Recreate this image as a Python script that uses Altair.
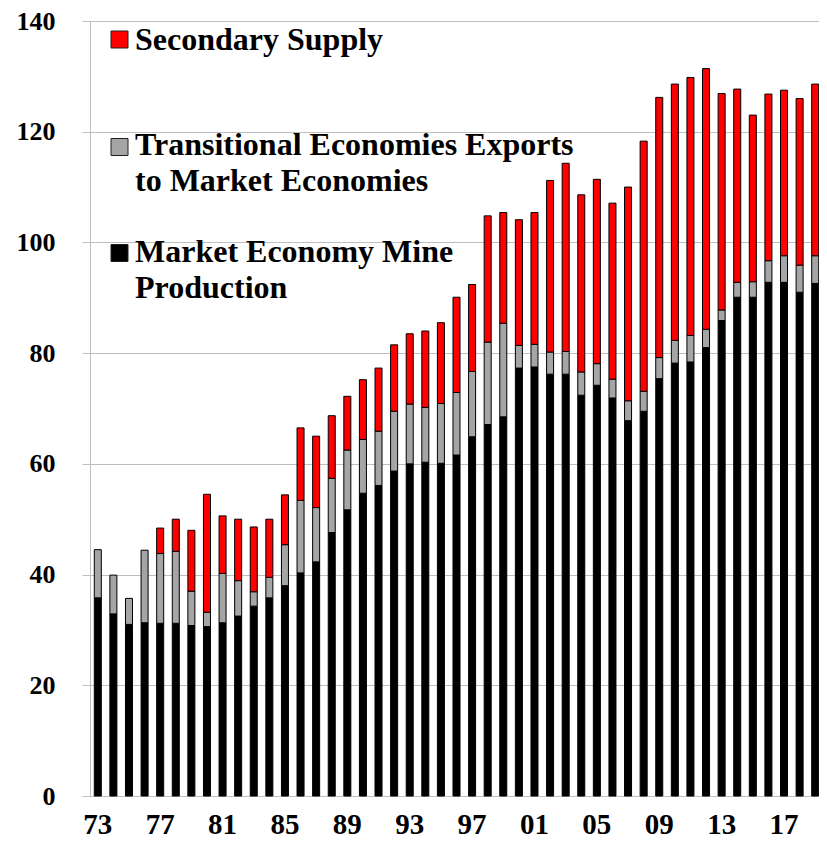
import altair as alt
import pandas as pd

# ---------------- data ----------------
years = list(range(1973, 2020))

market = [35.8, 32.9, 31.0, 31.3, 31.2, 31.2, 30.8, 30.6, 31.3, 32.5,
          34.3, 35.8, 38.0, 40.3, 42.3, 47.6, 51.7, 54.7, 56.1, 58.7,
          60.0, 60.3, 60.1, 61.6, 64.9, 67.1, 68.5, 77.3, 77.5, 76.2,
          76.2, 72.4, 74.2, 71.9, 67.8, 69.5, 75.4, 78.2, 78.4, 81.0,
          85.9, 90.1, 90.1, 92.8, 92.8, 91.0, 92.6]

transitional = [8.7, 7.0, 4.7, 13.1, 12.6, 13.0, 6.2, 2.6, 8.9, 6.4,
                2.6, 3.7, 7.4, 13.1, 9.8, 9.8, 10.8, 9.7, 9.8, 10.8,
                10.8, 9.9, 10.8, 11.3, 11.8, 14.9, 16.9, 4.1, 4.1, 4.0,
                4.1, 4.2, 3.9, 3.4, 3.6, 3.6, 3.8, 4.1, 4.8, 3.3,
                1.9, 2.7, 2.8, 3.9, 4.8, 4.9, 5.0]

secondary = [0.0, 0.0, 0.0, 0.0, 4.6, 5.8, 11.0, 21.3, 10.4, 11.1,
             11.7, 10.5, 9.0, 13.1, 12.9, 11.3, 9.7, 10.8, 11.4, 12.0,
             12.7, 13.8, 14.6, 17.2, 15.7, 22.8, 20.0, 22.7, 23.8, 31.0,
             34.0, 32.0, 33.3, 31.8, 38.6, 45.2, 47.0, 46.3, 46.6, 47.1,
             39.1, 34.9, 30.1, 30.1, 29.9, 30.1, 31.0]

series_names = ["Market Economy Mine Production",
                "Transitional Economies Exports to Market Economies",
                "Secondary Supply"]
series_colors = ["#000000", "#a5a5a5", "#ff0000"]

legend_lines = {
    "Secondary Supply": ["Secondary Supply"],
    "Transitional Economies Exports to Market Economies":
        ["Transitional Economies Exports", "to Market Economies"],
    "Market Economy Mine Production": ["Market Economy Mine", "Production"],
}

y_ticks = [0, 20, 40, 60, 80, 100, 120, 140]

# ---------------- table ----------------
rows = []
for i, yr in enumerate(years):
    for k, vals in enumerate([market, transitional, secondary]):
        if vals[i] > 0:
            rows.append({"year": str(yr), "series": series_names[k],
                         "value": vals[i], "order": k})
df = pd.DataFrame(rows)

FONT = "Liberation Serif"
GRID = "#bfbfbf"

bars = alt.Chart(df).mark_bar(stroke="#000000", strokeWidth=1).encode(
    x=alt.X(
        "year:O",
        sort=None,
        scale=alt.Scale(range=[0, 733], paddingInner=0.55, paddingOuter=0.275),
        axis=alt.Axis(
            title=None, labelAngle=0, ticks=False, tickSize=0, grid=False,
            labelExpr="(toNumber(datum.value) - 1973) % 4 == 0 ? substring(datum.value, 2, 4) : ''",
            labelFont=FONT, labelFontSize=29, labelFontWeight="bold",
            labelColor="#000000", labelPadding=14, labelOverlap=False,
            domainColor=GRID, domainWidth=1,
        ),
    ),
    y=alt.Y(
        "value:Q",
        stack="zero",
        scale=alt.Scale(domain=[0, 140], nice=False),
        axis=alt.Axis(
            title=None, values=y_ticks, grid=True, gridColor=GRID, gridWidth=1,
            ticks=True, tickSize=8, tickColor=GRID, domainColor=GRID,
            labelFont=FONT, labelFontSize=26, labelFontWeight="bold",
            labelColor="#000000", labelPadding=27,
        ),
    ),
    color=alt.Color("series:N",
                    scale=alt.Scale(domain=series_names, range=series_colors),
                    legend=None),
    order=alt.Order("order:Q", sort="ascending"),
)

# ---------------- hand-made legend ----------------
legend_layout = [
    ("Secondary Supply", 18.5, 29),
    ("Transitional Economies Exports to Market Economies", 126, 134),
    ("Market Economy Mine Production", 232, 241),
]

layers = [bars]
for name, sq_y, txt_y in legend_layout:
    color = series_colors[series_names.index(name)]
    one = pd.DataFrame({"series": [name]})
    sq = alt.Chart(one).mark_square(
        size=289, filled=True, fill=color, stroke="#202020", strokeWidth=1, opacity=1
    ).encode(x=alt.value(29.5), y=alt.value(sq_y))
    tx = alt.Chart(one).mark_text(
        text=legend_lines[name], align="left", baseline="alphabetic",
        font=FONT, fontSize=32, fontWeight="bold", color="#000000", lineHeight=36,
    ).encode(x=alt.value(45), y=alt.value(txt_y))
    layers += [sq, tx]

chart = alt.layer(*layers).properties(
    width=729,
    height=775,
    padding={"left": 82, "top": 13, "right": 0, "bottom": 45},
    autosize=alt.AutoSizeParams(type="none"),
    background="#ffffff",
).configure_view(stroke=None)

chart.save("out.html", embed_options={"renderer": "svg", "actions": False})
